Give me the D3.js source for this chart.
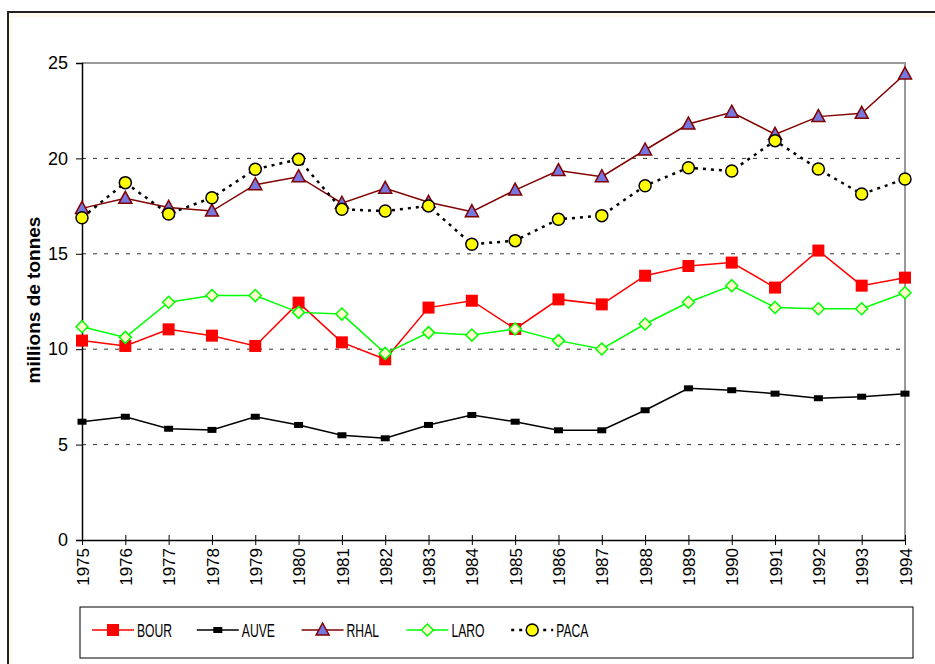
<!DOCTYPE html>
<html>
<head>
<meta charset="utf-8">
<script src="https://cdn.jsdelivr.net/npm/d3@7/dist/d3.min.js"></script>
<style>
  body { margin: 0; background: #fff; }
  text { font-family: "Liberation Sans", Arial, sans-serif; }
</style>
</head>
<body>
<div id="chart"></div>
<script>
// data
var years = d3.range(1975, 1995);
var yTicks = [0, 5, 10, 15, 20, 25];
var seriesNames = ['BOUR', 'AUVE', 'RHAL', 'LARO', 'PACA'];

var bour = [10.45, 10.17, 11.04, 10.71, 10.17, 12.44, 10.36, 9.47, 12.18, 12.54,
            11.06, 12.61, 12.35, 13.85, 14.36, 14.54, 13.23, 15.17, 13.33, 13.75];
var auve = [6.2, 6.46, 5.83, 5.77, 6.46, 6.03, 5.49, 5.33, 6.03, 6.55,
            6.2, 5.75, 5.75, 6.8, 7.95, 7.85, 7.67, 7.43, 7.51, 7.67];
var rhal = [17.38, 17.91, 17.43, 17.24, 18.62, 19.04, 17.65, 18.43, 17.7, 17.21,
            18.34, 19.36, 19.04, 20.44, 21.8, 22.42, 21.26, 22.19, 22.36, 24.42];
var laro = [11.18, 10.62, 12.46, 12.81, 12.81, 11.93, 11.84, 9.78, 10.87, 10.74,
            11.06, 10.45, 10.01, 11.32, 12.46, 13.33, 12.19, 12.12, 12.12, 12.96];
var paca = [16.89, 18.73, 17.09, 17.94, 19.43, 19.95, 17.33, 17.24, 17.51, 15.5,
            15.69, 16.81, 17.0, 18.57, 19.51, 19.34, 20.93, 19.44, 18.13, 18.92];

var chartWidth  = 935;
var chartHeight = 664;
var margin = {left: 82, top: 63, right: 30, bottom: 124};

var svg = d3.select('#chart')
    .append('svg')
    .attr('width', chartWidth)
    .attr('height', chartHeight);

// outer frame
svg.append('rect')
    .attr('x', 8).attr('y', 12)
    .attr('width', 940).attr('height', 670)
    .attr('fill', '#fffaf0')
    .attr('stroke', '#222')
    .attr('stroke-width', 2);
svg.append('rect')
    .attr('x', 12).attr('y', 17)
    .attr('width', 940).attr('height', 670)
    .attr('fill', '#fff');

var x = d3.scaleLinear()
    .domain([1975, 1994])
    .range([margin.left, chartWidth - margin.right]);
var y = d3.scaleLinear()
    .domain([0, 25])
    .range([chartHeight - margin.bottom, margin.top]);

// grid lines
svg.selectAll('line.grid')
    .data([5, 10, 15, 20])
    .enter()
    .append('line')
    .attr('class', 'grid')
    .attr('x1', x(1975)).attr('x2', x(1994))
    .attr('y1', function(d){ return y(d); })
    .attr('y2', function(d){ return y(d); })
    .attr('stroke', '#333')
    .attr('stroke-width', 1)
    .attr('stroke-dasharray', '4,7');

// plot frame top and right
svg.append('path')
    .attr('d', 'M' + x(1975) + ',' + y(25) + 'H' + x(1994) + 'V' + y(0))
    .attr('fill', 'none')
    .attr('stroke', '#999')
    .attr('stroke-width', 2);

// axes
var yAxis = svg.append('g')
    .attr('transform', 'translate(' + x(1975) + ',0)')
    .call(d3.axisLeft(y).tickValues(yTicks).tickSize(6).tickPadding(8));
yAxis.select('.domain').attr('stroke', '#000').attr('stroke-width', 1.5);
yAxis.selectAll('text')
    .style('font-size', '18px').attr('fill', '#000')
    .style('font-family', '"Liberation Sans", Arial, sans-serif');

var xAxis = svg.append('g')
    .attr('transform', 'translate(0,' + y(0) + ')')
    .call(d3.axisBottom(x).tickValues(years).tickFormat(d3.format('d'))
        .tickSizeInner(5).tickSizeOuter(0));
xAxis.select('.domain').attr('stroke', '#000').attr('stroke-width', 1.5);
xAxis.selectAll('.tick line').attr('y1', -5).attr('y2', 5);
xAxis.selectAll('text')
    .style('font-size', '17px').attr('fill', '#000')
    .style('font-family', '"Liberation Sans", Arial, sans-serif')
    .attr('transform', 'rotate(-90)')
    .attr('text-anchor', 'end')
    .attr('dy', '0.36em')
    .attr('x', -8)
    .attr('y', 0);

svg.append('text')
    .attr('transform', 'translate(40,300) rotate(-90)')
    .attr('text-anchor', 'middle')
    .style('font-size', '19px')
    .attr('font-weight', 'bold')
    .text('millions de tonnes');

var line = d3.line()
    .x(function(d, i){ return x(years[i]); })
    .y(function(d){ return y(d); });

var styles = {
    BOUR: {data: bour, color: '#ff0000', width: 1.5, dash: null},
    AUVE: {data: auve, color: '#000000', width: 1.5, dash: null},
    RHAL: {data: rhal, color: '#800000', width: 1.5, dash: null},
    LARO: {data: laro, color: '#00ff00', width: 1.5, dash: null},
    PACA: {data: paca, color: '#000000', width: 2.5, dash: '3,5'}
};

function drawMarker(g, name, cx, cy){
    if(name === 'BOUR'){
        g.append('rect').attr('x', cx - 6).attr('y', cy - 6)
            .attr('width', 12).attr('height', 12).attr('fill', '#ff0000');
    } else if(name === 'AUVE'){
        g.append('rect').attr('x', cx - 4.5).attr('y', cy - 3)
            .attr('width', 9).attr('height', 6).attr('fill', '#000');
    } else if(name === 'RHAL'){
        g.append('path')
            .attr('d', 'M' + cx + ',' + (cy - 7) + 'L' + (cx + 6.5) + ',' + (cy + 5) + 'L' + (cx - 6.5) + ',' + (cy + 5) + 'Z')
            .attr('fill', '#7777e0').attr('stroke', '#800000').attr('stroke-width', 1.5);
    } else if(name === 'LARO'){
        g.append('path')
            .attr('d', 'M' + cx + ',' + (cy - 6) + 'L' + (cx + 6) + ',' + cy + 'L' + cx + ',' + (cy + 6) + 'L' + (cx - 6) + ',' + cy + 'Z')
            .attr('fill', '#ffffcc').attr('stroke', '#00ff00').attr('stroke-width', 1.5);
    } else {
        g.append('circle').attr('cx', cx).attr('cy', cy).attr('r', 6)
            .attr('fill', '#ffff00').attr('stroke', '#000').attr('stroke-width', 1.5);
    }
}

seriesNames.forEach(function(name){
    var s = styles[name];
    var g = svg.append('g');
    g.append('path')
        .datum(s.data)
        .attr('d', line)
        .attr('fill', 'none')
        .attr('stroke', s.color)
        .attr('stroke-width', s.width)
        .attr('stroke-dasharray', s.dash);
    s.data.forEach(function(v, i){
        drawMarker(g, name, x(years[i]), y(v));
    });
});

// legend
svg.append('rect')
    .attr('x', 80).attr('y', 607)
    .attr('width', 833).attr('height', 51)
    .attr('fill', '#fff')
    .attr('stroke', '#000')
    .attr('stroke-width', 1);

seriesNames.forEach(function(name, i){
    var s = styles[name];
    var lx = 92 + i * 104.8;
    var ly = 630;
    var g = svg.append('g');
    g.append('line')
        .attr('x1', lx).attr('x2', lx + 42)
        .attr('y1', ly).attr('y2', ly)
        .attr('stroke', s.color)
        .attr('stroke-width', s.width)
        .attr('stroke-dasharray', s.dash);
    drawMarker(g, name, lx + 21, ly);
    g.append('text')
        .attr('transform', 'translate(' + (lx + 45) + ',' + ly + ') scale(0.64,1)')
        .attr('dy', '0.36em')
        .style('font-size', '19px')
        .text(name);
});
</script>
</body>
</html>
